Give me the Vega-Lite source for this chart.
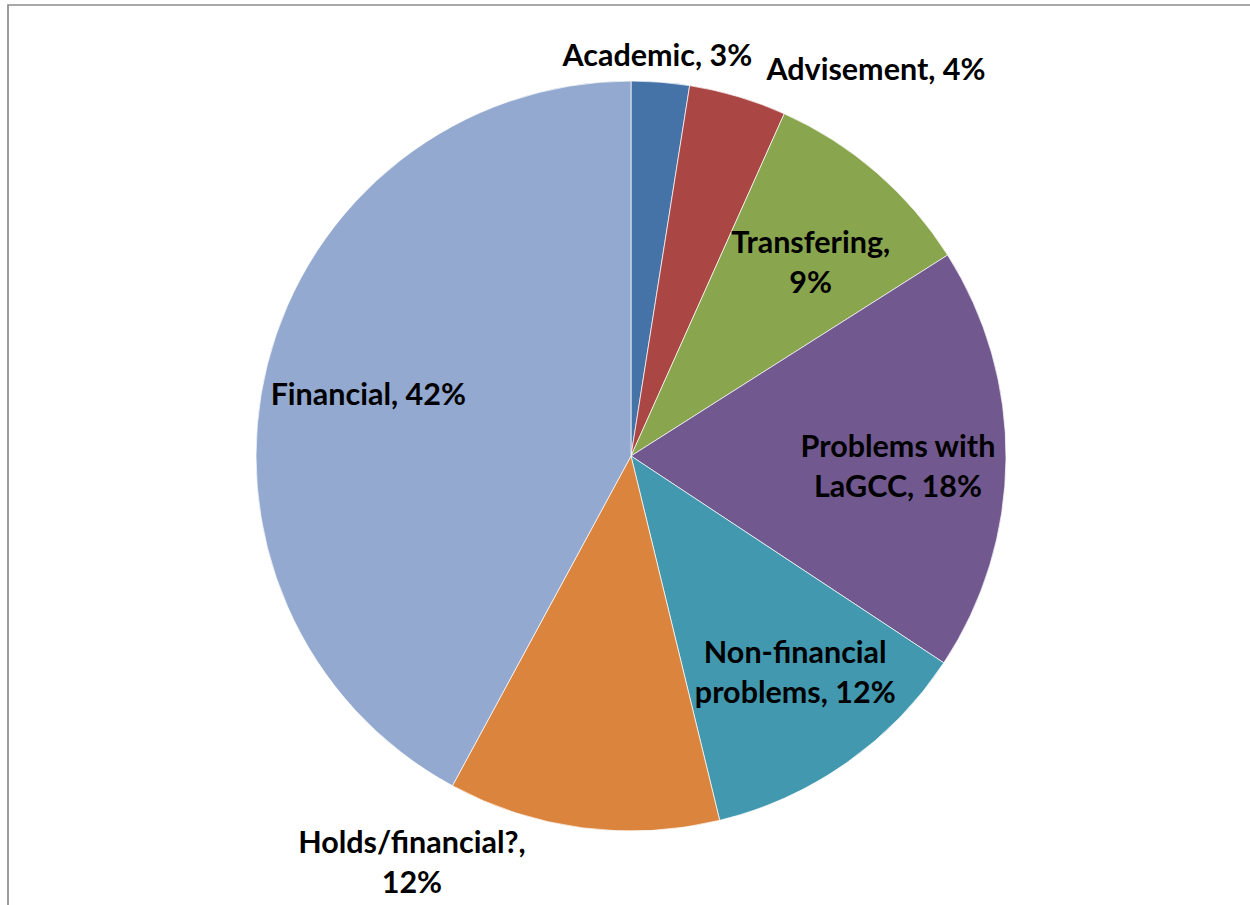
{
  "$schema": "https://vega.github.io/schema/vega-lite/v6.json",
  "width": 1246,
  "height": 902,
  "autosize": {"type": "none"},
  "padding": {"left": 8, "top": 5, "right": 0, "bottom": 0},
  "background": "white",
  "view": {"stroke": "#8c8c8c", "strokeWidth": 1.7},
  "config": {"text": {"font": "Lato", "fontWeight": "bold", "fontSize": 30.5, "lineHeight": 40, "lineBreak": "\n", "align": "center", "baseline": "middle", "color": "black"}},
  "data": {
    "values": [
      {"order": 1, "category": "Academic", "value": 2.5, "label": "Academic, 3%"},
      {"order": 2, "category": "Advisement", "value": 4.2, "label": "Advisement, 4%"},
      {"order": 3, "category": "Transfering", "value": 9.3, "label": "Transfering,\n9%"},
      {"order": 4, "category": "Problems with LaGCC", "value": 18.3, "label": "Problems with\nLaGCC, 18%"},
      {"order": 5, "category": "Non-financial problems", "value": 11.9, "label": "Non-financial\nproblems, 12%"},
      {"order": 6, "category": "Holds/financial?", "value": 11.7, "label": "Holds/financial?,\n12%"},
      {"order": 7, "category": "Financial", "value": 42.1, "label": "Financial, 42%"}
    ]
  },
  "encoding": {
    "theta": {"field": "value", "type": "quantitative", "stack": true},
    "order": {"field": "order", "type": "ordinal"}
  },
  "layer": [
    {
      "mark": {"type": "arc", "outerRadius": 375, "stroke": "white", "strokeWidth": 0.7},
      "encoding": {
        "color": {
          "field": "category",
          "type": "nominal",
          "scale": {
            "domain": ["Academic", "Advisement", "Transfering", "Problems with LaGCC", "Non-financial problems", "Holds/financial?", "Financial"],
            "range": ["#4572A7", "#AA4643", "#89A54E", "#71588F", "#4198AF", "#DB843D", "#93A9CF"]
          },
          "legend": null
        }
      }
    },
    {
      "mark": {"type": "text", "radius": 400, "dx": -5},
      "encoding": {"text": {"condition": {"test": "datum.category == 'Academic'", "field": "label"}, "value": ""}}
    },
    {
      "mark": {"type": "text", "radius": 456, "dx": 115, "dy": 52},
      "encoding": {"text": {"condition": {"test": "datum.category == 'Advisement'", "field": "label"}, "value": ""}}
    },
    {
      "mark": {"type": "text", "radius": 264, "dx": 7, "dy": -12},
      "encoding": {"text": {"condition": {"test": "datum.category == 'Transfering'", "field": "label"}, "value": ""}}
    },
    {
      "mark": {"type": "text", "radius": 266, "dx": 1, "dy": -11},
      "encoding": {"text": {"condition": {"test": "datum.category == 'Problems with LaGCC'", "field": "label"}, "value": ""}}
    },
    {
      "mark": {"type": "text", "radius": 270, "dx": 9, "dy": -23},
      "encoding": {"text": {"condition": {"test": "datum.category == 'Non-financial problems'", "field": "label"}, "value": ""}}
    },
    {
      "mark": {"type": "text", "radius": 460, "dx": -160, "dy": -68},
      "encoding": {"text": {"condition": {"test": "datum.category == 'Holds/financial?'", "field": "label"}, "value": ""}}
    },
    {
      "mark": {"type": "text", "radius": 270, "dx": -1, "dy": 6},
      "encoding": {"text": {"condition": {"test": "datum.category == 'Financial'", "field": "label"}, "value": ""}}
    }
  ]
}
